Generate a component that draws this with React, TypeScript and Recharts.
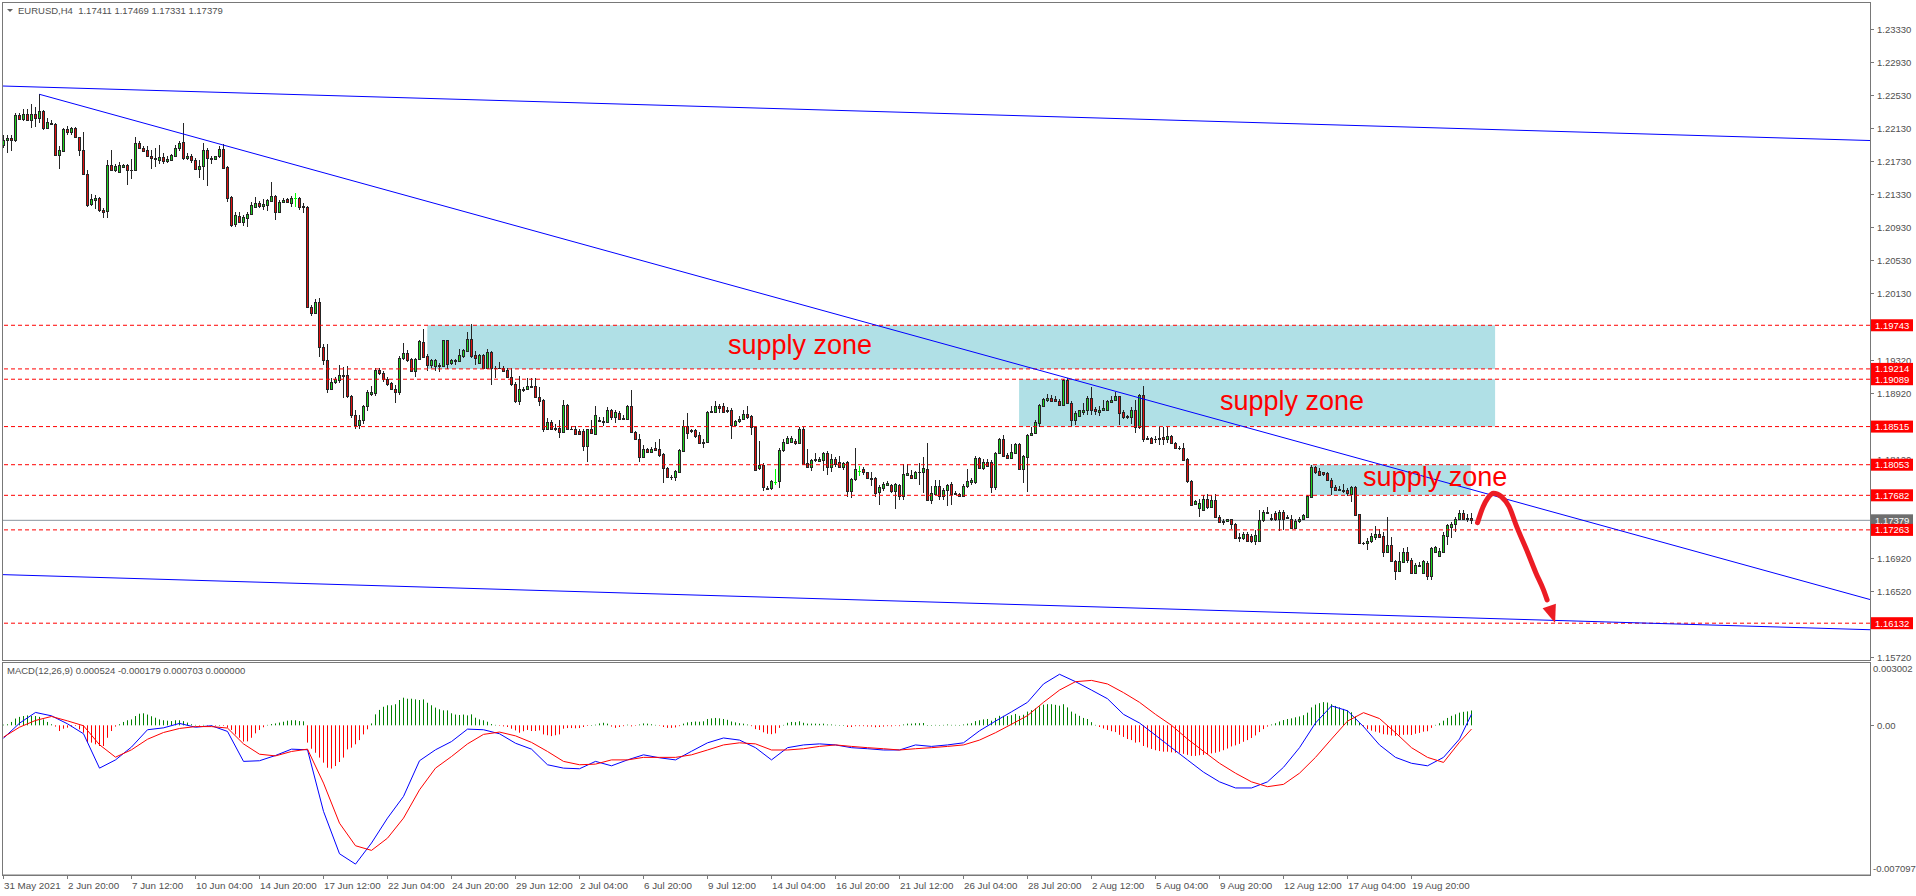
import React from "react";
import {
  Bar,
  ComposedChart,
  Line,
  ReferenceArea,
  ReferenceLine,
  Scatter,
  XAxis,
  YAxis,
} from "recharts";

// EURUSD H4, one row per bar: [open, high, low, close]
const candles: [number, number, number, number][] = [
  [1.2193, 1.2205, 1.2189, 1.2199], [1.2199, 1.2205, 1.2183, 1.2201], [1.2201, 1.2205, 1.2185, 1.2199], [1.2199, 1.2231, 1.2197, 1.2229],
  [1.2229, 1.2231, 1.2223, 1.2224], [1.2224, 1.2236, 1.2222, 1.223], [1.223, 1.2237, 1.2222, 1.2223], [1.2223, 1.2242, 1.2213, 1.223],
  [1.223, 1.2239, 1.2215, 1.2225], [1.2225, 1.2254, 1.2219, 1.2234], [1.2234, 1.2235, 1.2211, 1.2213], [1.2213, 1.2225, 1.2212, 1.2221],
  [1.222, 1.2223, 1.2217, 1.2218], [1.2218, 1.222, 1.2179, 1.2181], [1.2181, 1.2191, 1.2164, 1.2187], [1.2186, 1.2213, 1.2185, 1.2212],
  [1.2212, 1.2216, 1.2205, 1.2209], [1.2209, 1.2215, 1.2205, 1.2213], [1.2213, 1.2215, 1.2201, 1.2202], [1.2202, 1.2203, 1.2179, 1.2187],
  [1.2187, 1.2209, 1.2156, 1.2158], [1.2158, 1.2162, 1.2118, 1.212], [1.2121, 1.2134, 1.2119, 1.2127], [1.2126, 1.2132, 1.2115, 1.2128],
  [1.2128, 1.213, 1.2112, 1.2114], [1.2114, 1.2117, 1.2104, 1.2112], [1.2113, 1.2175, 1.2104, 1.2168], [1.2168, 1.2187, 1.2161, 1.2162],
  [1.2162, 1.217, 1.216, 1.2167], [1.216, 1.2172, 1.216, 1.2168], [1.2166, 1.217, 1.2165, 1.2168], [1.2168, 1.217, 1.2144, 1.2162],
  [1.2162, 1.2176, 1.2151, 1.2163], [1.2163, 1.2202, 1.2162, 1.2195], [1.2195, 1.2198, 1.2188, 1.2189], [1.2189, 1.2192, 1.2185, 1.2186],
  [1.2187, 1.2191, 1.2178, 1.2179], [1.2179, 1.2187, 1.2164, 1.2177], [1.2176, 1.2189, 1.2166, 1.2177], [1.2175, 1.2193, 1.217, 1.2178],
  [1.2178, 1.2183, 1.217, 1.2173], [1.2173, 1.2179, 1.2171, 1.2176], [1.2175, 1.2182, 1.2174, 1.2181], [1.218, 1.2193, 1.2178, 1.2189],
  [1.2189, 1.2198, 1.2186, 1.2195], [1.2196, 1.2219, 1.2175, 1.2177], [1.2177, 1.2183, 1.2174, 1.2179], [1.2179, 1.2182, 1.2171, 1.2174],
  [1.2174, 1.2177, 1.2162, 1.2164], [1.2164, 1.2175, 1.2153, 1.2167], [1.2167, 1.2195, 1.215, 1.2187], [1.2187, 1.2189, 1.2143, 1.2177],
  [1.2176, 1.2179, 1.217, 1.2177], [1.2176, 1.218, 1.2174, 1.2179], [1.2179, 1.2192, 1.2177, 1.2188], [1.2188, 1.2194, 1.2164, 1.2165],
  [1.2166, 1.2167, 1.2124, 1.2129], [1.213, 1.2131, 1.2094, 1.2096], [1.2097, 1.2112, 1.2094, 1.2108], [1.2107, 1.2112, 1.2099, 1.21],
  [1.21, 1.2108, 1.2095, 1.2105], [1.2104, 1.2112, 1.2094, 1.2109], [1.2109, 1.2124, 1.2108, 1.212], [1.2118, 1.213, 1.2116, 1.2122],
  [1.2122, 1.2125, 1.2116, 1.2119], [1.2119, 1.2127, 1.2114, 1.2121], [1.212, 1.2127, 1.2113, 1.2126], [1.2125, 1.2148, 1.2124, 1.2131],
  [1.2131, 1.2132, 1.2102, 1.2112], [1.2112, 1.2126, 1.2111, 1.2124], [1.2124, 1.2129, 1.2122, 1.2126], [1.2127, 1.2128, 1.2122, 1.2124],
  [1.2123, 1.2131, 1.2118, 1.2128], [1.2129, 1.2135, 1.2118, 1.2129], [1.2129, 1.213, 1.2114, 1.2118], [1.2119, 1.2122, 1.211, 1.2118],
  [1.2118, 1.2119, 1.1995, 1.1996], [1.1997, 1.1999, 1.1985, 1.1989], [1.1989, 1.2006, 1.1988, 1.2003], [1.2002, 1.2007, 1.1936, 1.1948],
  [1.1948, 1.1952, 1.1926, 1.1932], [1.1932, 1.1952, 1.1892, 1.1897], [1.1897, 1.191, 1.1896, 1.1906], [1.1905, 1.1912, 1.1903, 1.1909],
  [1.1908, 1.1926, 1.1904, 1.1914], [1.1914, 1.1924, 1.1886, 1.1913], [1.1914, 1.1925, 1.1886, 1.1888], [1.1888, 1.189, 1.1862, 1.1866],
  [1.1866, 1.1872, 1.1848, 1.1853], [1.1853, 1.1866, 1.1848, 1.186], [1.186, 1.1878, 1.1855, 1.1876], [1.1876, 1.1896, 1.187, 1.1893],
  [1.1891, 1.1901, 1.1888, 1.1894], [1.1892, 1.1922, 1.1889, 1.192], [1.192, 1.1922, 1.1914, 1.1916], [1.1916, 1.1919, 1.1906, 1.1909],
  [1.1909, 1.1912, 1.1901, 1.1903], [1.1904, 1.1906, 1.1896, 1.1897], [1.1897, 1.1902, 1.188, 1.1893], [1.1893, 1.1937, 1.189, 1.1935],
  [1.1935, 1.1953, 1.1932, 1.1941], [1.1941, 1.1944, 1.193, 1.1932], [1.1933, 1.1935, 1.1918, 1.1919], [1.1919, 1.1935, 1.1912, 1.1933],
  [1.1933, 1.1956, 1.1932, 1.1955], [1.1954, 1.197, 1.1935, 1.1936], [1.1937, 1.1939, 1.1919, 1.1926], [1.1926, 1.1934, 1.1923, 1.1932],
  [1.1925, 1.1934, 1.1919, 1.1932], [1.1926, 1.1928, 1.1918, 1.1925], [1.1925, 1.1957, 1.1924, 1.1956], [1.1956, 1.1957, 1.1921, 1.1927],
  [1.1928, 1.1934, 1.1926, 1.1932], [1.1932, 1.1933, 1.1926, 1.1931], [1.1931, 1.1945, 1.193, 1.1938], [1.1937, 1.1946, 1.1935, 1.1944],
  [1.1943, 1.1966, 1.1942, 1.1958], [1.1958, 1.1976, 1.1935, 1.1937], [1.1938, 1.1943, 1.1926, 1.1935], [1.1929, 1.1939, 1.1927, 1.1938],
  [1.1938, 1.1939, 1.1921, 1.1923], [1.1922, 1.1946, 1.1921, 1.1942], [1.1942, 1.1943, 1.1902, 1.1922], [1.1923, 1.1925, 1.191, 1.1922],
  [1.1922, 1.193, 1.1921, 1.1923], [1.1923, 1.1925, 1.1918, 1.1919], [1.192, 1.1923, 1.191, 1.1911], [1.1911, 1.1923, 1.1901, 1.1903],
  [1.1903, 1.1906, 1.188, 1.1883], [1.1883, 1.1913, 1.1878, 1.1897], [1.1897, 1.1899, 1.1894, 1.1896], [1.1897, 1.191, 1.1896, 1.1901],
  [1.1901, 1.191, 1.1899, 1.19], [1.1901, 1.191, 1.1886, 1.1887], [1.1887, 1.1899, 1.1876, 1.1883], [1.1884, 1.1885, 1.1845, 1.1849],
  [1.1849, 1.1862, 1.1847, 1.1857], [1.1857, 1.186, 1.1847, 1.1849], [1.185, 1.1855, 1.1846, 1.1849], [1.185, 1.186, 1.1838, 1.1845],
  [1.1845, 1.1884, 1.1844, 1.1878], [1.1878, 1.1879, 1.1848, 1.1849], [1.1849, 1.1852, 1.1847, 1.1848], [1.1849, 1.1852, 1.1841, 1.1843],
  [1.1846, 1.1848, 1.1841, 1.1842], [1.1846, 1.1848, 1.1822, 1.1828], [1.1828, 1.1849, 1.1808, 1.1848], [1.1848, 1.1859, 1.1842, 1.1844],
  [1.1843, 1.1876, 1.1842, 1.1866], [1.1859, 1.1863, 1.1857, 1.1858], [1.1858, 1.1863, 1.1852, 1.1857], [1.1857, 1.1875, 1.1856, 1.1871],
  [1.1871, 1.1873, 1.186, 1.1863], [1.1863, 1.1871, 1.1856, 1.1869], [1.1868, 1.187, 1.186, 1.1861], [1.1862, 1.1865, 1.186, 1.1861],
  [1.1861, 1.1878, 1.186, 1.1876], [1.1876, 1.1896, 1.1844, 1.1845], [1.1845, 1.1846, 1.1835, 1.1837], [1.1837, 1.1843, 1.1808, 1.1815],
  [1.1815, 1.1829, 1.1814, 1.1824], [1.1824, 1.1825, 1.182, 1.1821], [1.1821, 1.1827, 1.1819, 1.1824], [1.1825, 1.1833, 1.1822, 1.1823],
  [1.1824, 1.1836, 1.1815, 1.1817], [1.1818, 1.1819, 1.1783, 1.1801], [1.1801, 1.1803, 1.1789, 1.1791], [1.1791, 1.1793, 1.1787, 1.179],
  [1.1791, 1.1799, 1.1785, 1.1798], [1.1797, 1.1824, 1.1796, 1.1823], [1.1822, 1.186, 1.1821, 1.1852], [1.1852, 1.1868, 1.1837, 1.1844],
  [1.1846, 1.1848, 1.1844, 1.1847], [1.1847, 1.1848, 1.1838, 1.184], [1.1841, 1.1845, 1.1831, 1.1832], [1.1833, 1.1837, 1.1826, 1.1832],
  [1.1833, 1.187, 1.1832, 1.1869], [1.1869, 1.1876, 1.1868, 1.187], [1.1869, 1.1883, 1.1868, 1.1877], [1.1877, 1.1879, 1.1868, 1.1874],
  [1.1876, 1.188, 1.1868, 1.1869], [1.1871, 1.1875, 1.1868, 1.187], [1.1871, 1.1874, 1.1836, 1.1854], [1.1854, 1.186, 1.1852, 1.1858],
  [1.1858, 1.1864, 1.1856, 1.1861], [1.1861, 1.1871, 1.1859, 1.1867], [1.1867, 1.1876, 1.1861, 1.1863], [1.1864, 1.1865, 1.1841, 1.1851],
  [1.1851, 1.1852, 1.1798, 1.1799], [1.1801, 1.1834, 1.1799, 1.1805], [1.1805, 1.1807, 1.1773, 1.1778], [1.1777, 1.1779, 1.1775, 1.1776],
  [1.1777, 1.1787, 1.1775, 1.1785], [1.1784, 1.18, 1.1781, 1.1784], [1.1785, 1.1825, 1.1777, 1.1823], [1.1823, 1.1836, 1.1821, 1.1833],
  [1.1832, 1.184, 1.183, 1.1838], [1.1833, 1.184, 1.1832, 1.1838], [1.1834, 1.1836, 1.1829, 1.1831], [1.1831, 1.1851, 1.183, 1.1849],
  [1.1849, 1.1851, 1.1805, 1.1806], [1.1807, 1.1824, 1.1801, 1.1803], [1.1803, 1.1812, 1.1798, 1.1811], [1.1812, 1.1819, 1.1808, 1.1811],
  [1.181, 1.1815, 1.1809, 1.1812], [1.1811, 1.1821, 1.1798, 1.182], [1.182, 1.1822, 1.1793, 1.1803], [1.1803, 1.1818, 1.1797, 1.1812],
  [1.1812, 1.1815, 1.1803, 1.1806], [1.1809, 1.1816, 1.1802, 1.1803], [1.1802, 1.1808, 1.1799, 1.1807], [1.1808, 1.181, 1.1766, 1.1774],
  [1.1773, 1.1789, 1.1765, 1.1788], [1.1788, 1.1825, 1.1786, 1.18], [1.1798, 1.1804, 1.1792, 1.1798], [1.18, 1.1803, 1.1793, 1.1796],
  [1.1796, 1.1797, 1.1788, 1.1789], [1.1789, 1.1796, 1.178, 1.1788], [1.1789, 1.1791, 1.1766, 1.1771], [1.1772, 1.1781, 1.1756, 1.1778],
  [1.1777, 1.1784, 1.1774, 1.1782], [1.1781, 1.1785, 1.1779, 1.1783], [1.1781, 1.1782, 1.1771, 1.1773], [1.1773, 1.1783, 1.1752, 1.1782],
  [1.1781, 1.1782, 1.1762, 1.1767], [1.1767, 1.1806, 1.1763, 1.1794], [1.1793, 1.1806, 1.1792, 1.1795], [1.1793, 1.1799, 1.1788, 1.1789],
  [1.1789, 1.1798, 1.1788, 1.1797], [1.1797, 1.1807, 1.1781, 1.1796], [1.1797, 1.1815, 1.1771, 1.1801], [1.18, 1.1831, 1.1762, 1.1763],
  [1.1763, 1.1779, 1.1758, 1.1771], [1.177, 1.1787, 1.1769, 1.178], [1.178, 1.1787, 1.1763, 1.1767], [1.1767, 1.1777, 1.1763, 1.1775],
  [1.1775, 1.1782, 1.1755, 1.1781], [1.1782, 1.1784, 1.1756, 1.177], [1.177, 1.1773, 1.1769, 1.1771], [1.177, 1.1771, 1.1766, 1.1767],
  [1.1767, 1.1782, 1.1766, 1.1779], [1.1779, 1.18, 1.1777, 1.1785], [1.1784, 1.1789, 1.1781, 1.1787], [1.1784, 1.1816, 1.1782, 1.1813],
  [1.1813, 1.1815, 1.18, 1.1801], [1.1801, 1.1812, 1.1799, 1.1809], [1.1809, 1.1812, 1.1803, 1.1804], [1.1809, 1.1811, 1.1771, 1.1778],
  [1.1778, 1.1821, 1.1775, 1.182], [1.182, 1.1838, 1.1818, 1.1837], [1.1837, 1.1841, 1.1815, 1.1816], [1.1817, 1.182, 1.1812, 1.1814],
  [1.1814, 1.183, 1.1812, 1.1821], [1.182, 1.1832, 1.1818, 1.183], [1.183, 1.1831, 1.1799, 1.18], [1.18, 1.1817, 1.1783, 1.1816],
  [1.1815, 1.1842, 1.1772, 1.1841], [1.1841, 1.1851, 1.184, 1.1844], [1.1844, 1.1859, 1.1843, 1.1857], [1.1856, 1.1879, 1.1851, 1.1878],
  [1.1877, 1.1886, 1.1875, 1.1885], [1.1884, 1.1891, 1.1881, 1.1886], [1.1886, 1.189, 1.1881, 1.1883], [1.1885, 1.1888, 1.1881, 1.1882],
  [1.1883, 1.1885, 1.1876, 1.1878], [1.1878, 1.1909, 1.1876, 1.1908], [1.1908, 1.191, 1.1879, 1.188], [1.188, 1.1882, 1.1852, 1.1859],
  [1.1859, 1.187, 1.1853, 1.1868], [1.1864, 1.1872, 1.1863, 1.1871], [1.1869, 1.188, 1.1866, 1.1872], [1.1872, 1.1889, 1.1866, 1.1886],
  [1.1886, 1.1899, 1.1866, 1.1872], [1.1873, 1.1875, 1.1866, 1.187], [1.1869, 1.1876, 1.1864, 1.1872], [1.1872, 1.1884, 1.187, 1.1874],
  [1.1872, 1.1884, 1.1871, 1.1882], [1.1881, 1.1888, 1.188, 1.1884], [1.1884, 1.1894, 1.1883, 1.1888], [1.1888, 1.1889, 1.1853, 1.1868],
  [1.1869, 1.1871, 1.1861, 1.1863], [1.1863, 1.1866, 1.1861, 1.1864], [1.1863, 1.1875, 1.1855, 1.1872], [1.1872, 1.1884, 1.1844, 1.1851],
  [1.1851, 1.1891, 1.1849, 1.189], [1.189, 1.1901, 1.1833, 1.1837], [1.1838, 1.184, 1.1835, 1.1837], [1.1838, 1.1839, 1.1831, 1.1832],
  [1.1837, 1.184, 1.1832, 1.1836], [1.1838, 1.1851, 1.1829, 1.1837], [1.1839, 1.1851, 1.1829, 1.1836], [1.1836, 1.1851, 1.1831, 1.184],
  [1.184, 1.1841, 1.183, 1.1831], [1.1831, 1.1833, 1.1825, 1.1826], [1.1826, 1.1828, 1.1823, 1.1825], [1.1826, 1.1831, 1.181, 1.1811],
  [1.1812, 1.1813, 1.1783, 1.1785], [1.1785, 1.1787, 1.1755, 1.1756], [1.1758, 1.1763, 1.1756, 1.1761], [1.1753, 1.1764, 1.1742, 1.1759],
  [1.1751, 1.1768, 1.175, 1.1764], [1.1764, 1.177, 1.1752, 1.1754], [1.1754, 1.1768, 1.1754, 1.1762], [1.1762, 1.177, 1.1741, 1.1742],
  [1.1742, 1.1744, 1.1735, 1.1736], [1.1737, 1.174, 1.1732, 1.1736], [1.1737, 1.174, 1.1736, 1.1739], [1.1739, 1.174, 1.1727, 1.1733],
  [1.1733, 1.1735, 1.1716, 1.1717], [1.1718, 1.1722, 1.1712, 1.1717], [1.1716, 1.1724, 1.1714, 1.1721], [1.1721, 1.1724, 1.1712, 1.1713],
  [1.1719, 1.1721, 1.171, 1.1713], [1.1713, 1.1726, 1.1708, 1.172], [1.1713, 1.175, 1.1712, 1.1738], [1.1738, 1.175, 1.1736, 1.1748],
  [1.1747, 1.1754, 1.1745, 1.1748], [1.174, 1.1746, 1.1737, 1.1741], [1.1747, 1.1749, 1.1737, 1.1739], [1.1739, 1.175, 1.1725, 1.1748],
  [1.1748, 1.175, 1.1726, 1.1739], [1.1742, 1.1744, 1.174, 1.1741], [1.1739, 1.1744, 1.1728, 1.1729], [1.1729, 1.1739, 1.1728, 1.1737],
  [1.1737, 1.1742, 1.1735, 1.174], [1.174, 1.1746, 1.1739, 1.1744], [1.1742, 1.1769, 1.1741, 1.1767], [1.1766, 1.1805, 1.1766, 1.1802],
  [1.1802, 1.1804, 1.1794, 1.1796], [1.1798, 1.1801, 1.1792, 1.1793], [1.1796, 1.1797, 1.1792, 1.1794], [1.1795, 1.1796, 1.1786, 1.1787],
  [1.1787, 1.1789, 1.1769, 1.1778], [1.1778, 1.1781, 1.1773, 1.1775], [1.1775, 1.1779, 1.1773, 1.1776], [1.1775, 1.1782, 1.1771, 1.1774],
  [1.1775, 1.1777, 1.1767, 1.1771], [1.177, 1.1779, 1.176, 1.1778], [1.1778, 1.1779, 1.1743, 1.1744], [1.1745, 1.1746, 1.1709, 1.171],
  [1.171, 1.1712, 1.1708, 1.1711], [1.171, 1.1717, 1.1702, 1.1713], [1.1713, 1.1722, 1.171, 1.1719], [1.1718, 1.1731, 1.1714, 1.1721],
  [1.1721, 1.1727, 1.1716, 1.1718], [1.1719, 1.1724, 1.1694, 1.17], [1.17, 1.1742, 1.1699, 1.1708], [1.1708, 1.1718, 1.1687, 1.1688],
  [1.1689, 1.169, 1.1666, 1.1677], [1.1677, 1.1699, 1.1676, 1.1688], [1.1687, 1.1704, 1.1686, 1.17], [1.17, 1.1706, 1.1686, 1.169],
  [1.169, 1.1692, 1.1673, 1.1674], [1.1674, 1.1686, 1.1673, 1.1684], [1.1683, 1.1687, 1.1681, 1.1684], [1.1674, 1.169, 1.1673, 1.1688],
  [1.1686, 1.1688, 1.1666, 1.167], [1.167, 1.1706, 1.1666, 1.1704], [1.17, 1.1707, 1.1699, 1.1705], [1.1695, 1.1704, 1.1694, 1.1701],
  [1.17, 1.1724, 1.1699, 1.172], [1.1719, 1.1734, 1.1708, 1.1732], [1.173, 1.1736, 1.1716, 1.1734], [1.1733, 1.1742, 1.1724, 1.174],
  [1.1739, 1.1751, 1.1738, 1.1747], [1.1747, 1.175, 1.1739, 1.174], [1.1741, 1.1746, 1.1736, 1.1739], [1.17411, 1.17469, 1.17331, 1.17379],
];

// MACD histogram, one value per bar
const macdHist = [
  0.00003, 0.00005, 0.00016, 0.00032, 0.0004, 0.00044, 0.00047, 0.00044, 0.00044, 0.0004, 0.00028, 0.00016, 0.00005, -0.00006, -0.00027, -0.00016,
  -0.00011, -0.00006, -0.00003, -0.00019, -0.00035, -0.00079, -0.00082, -0.0009, -0.00098, -0.00098, -0.00059, -0.00027, -0.00006, 0.00005, 0.00016, 0.00024,
  0.00028, 0.00044, 0.00055, 0.00057, 0.00051, 0.00043, 0.00036, 0.00028, 0.00024, 0.00022, 0.0002, 0.00024, 0.00024, 0.0002, 0.00013, 0.00005,
  0.00002, -0.00002, 0.00002, -0.00002, 0.00001, -0.00002, 0.00001, -0.00003, -0.00011, -0.00022, -0.00043, -0.00059, -0.00077, -0.00076, -0.00059, -0.00038,
  -0.00022, -0.00009, 0.00002, 0.00006, 0.00009, 0.00013, 0.00017, 0.00022, 0.00024, 0.00024, 0.0002, 0.00019, -0.00082, -0.00111, -0.0013, -0.00153,
  -0.00177, -0.00201, -0.00205, -0.00193, -0.00174, -0.00153, -0.00114, -0.00106, -0.0009, -0.0007, -0.00043, -0.00019, 0.00009, 0.00052, 0.00073, 0.00088,
  0.00095, 0.00095, 0.001, 0.0012, 0.00131, 0.00126, 0.00126, 0.00123, 0.0012, 0.00123, 0.00107, 0.00095, 0.00084, 0.00076, 0.00071, 0.00071,
  0.00057, 0.00051, 0.00049, 0.00051, 0.00047, 0.00052, 0.00036, 0.00028, 0.00024, 0.00017, 0.00006, 0.00002, -0.00002, -0.00005, -0.00008, -0.00016,
  -0.00024, -0.00035, -0.00028, -0.00022, -0.00027, -0.00027, -0.00024, -0.00043, -0.00047, -0.00051, -0.00047, -0.00043, -0.00016, -0.00013, -0.00013, -0.00014,
  -0.00013, -0.00008, -0.00003, 0, 0.00003, 0.00009, 0.00012, 0.00008, -0.00006, -0.00012, -0.00008, -0.00004, 0.00003, -0.00005, -0.00002, 0.00004,
  0.00009, 0.00008, 0.00005, 0.00002, -0.00002, -0.00008, -0.00012, -0.00012, -0.0001, -0.00004, 0.00008, 0.00014, 0.00016, 0.00018, 0.00017, 0.00019,
  0.0003, 0.00033, 0.00035, 0.00033, 0.0003, 0.00026, 0.00018, 0.00014, 0.0001, 0.00008, 0.00004, -0.00004, -0.00018, -0.00022, -0.00033, -0.0004,
  -0.00042, -0.00038, -0.00012, 0.00002, 0.00012, 0.00016, 0.00015, 0.00019, 0.00012, 0.00008, 0.00008, 0.00008, 0.00007, 0.00008, 0.00004, 0.00004,
  0.00002, 0, 0.00001, -0.00008, -0.00008, -0.00004, -0.00004, -0.00004, -0.00006, -0.00006, -0.00009, -0.00008, -0.00006, -0.00004, -0.00005, -0.00002,
  -0.00004, 0.00004, 0.00008, 0.00008, 0.0001, 0.0001, 0.00011, 0.00001, 0, 0.00002, 0.00001, 0.00002, 0.00004, 0.00002, 0.00002, 0.00001,
  0.00004, 0.00008, 0.0001, 0.0002, 0.00024, 0.00028, 0.0003, 0.00022, 0.00035, 0.00045, 0.00045, 0.00044, 0.00048, 0.00054, 0.00045, 0.0005,
  0.00065, 0.00072, 0.0008, 0.0009, 0.00098, 0.001, 0.001, 0.00097, 0.00093, 0.001, 0.00085, 0.00065, 0.00055, 0.00045, 0.00035, 0.0003,
  0.00015, 0.00002, -0.00008, -0.00015, -0.00022, -0.00028, -0.00032, -0.00045, -0.00055, -0.00065, -0.0007, -0.00082, -0.0008, -0.00098, -0.00105, -0.00112,
  -0.00118, -0.00122, -0.00125, -0.00125, -0.00128, -0.0013, -0.0013, -0.00135, -0.0014, -0.00145, -0.00145, -0.00142, -0.0014, -0.00138, -0.00133, -0.0013,
  -0.00125, -0.00118, -0.0011, -0.001, -0.00095, -0.00088, -0.00078, -0.0007, -0.0006, -0.00048, -0.00032, -0.00018, -0.00006, 0.00004, 0.0001, 0.00018,
  0.00025, 0.0003, 0.00033, 0.00038, 0.00042, 0.00048, 0.0006, 0.00085, 0.00098, 0.00105, 0.0011, 0.00108, 0.001, 0.00092, 0.00085, 0.00078,
  0.0007, 0.00062, 0.00042, 0.00012, -0.00008, -0.00018, -0.00025, -0.0003, -0.00035, -0.00042, -0.00044, -0.00048, -0.0005, -0.00048, -0.00045, -0.00044,
  -0.00046, -0.0004, -0.00036, -0.0003, -0.00028, -0.00012, 0.00002, 0.0001, 0.00022, 0.00035, 0.00045, 0.00052, 0.0006, 0.00064, 0.00066, 0.000703,
];

// MACD(12,26,9) main and signal lines, read every fourth bar
const macdBars = [
  0, 4, 8, 12, 16, 20, 24, 28, 32, 36, 40, 44, 48, 52, 56, 60, 64, 68, 72, 76, 80, 84, 88, 92, 96, 100, 104, 108, 112, 116, 120, 124,
  128, 132, 136, 140, 144, 148, 152, 156, 160, 164, 168, 172, 176, 180, 184, 188, 192, 196, 200, 204, 208, 212, 216, 220, 224, 228,
  232, 236, 240, 244, 248, 252, 256, 260, 264, 268, 272, 276, 280, 284, 288, 292, 296, 300, 304, 308, 312, 316, 320, 324, 328, 332,
  336, 340, 344, 348, 352, 356, 360, 364, 367,
];
const macdMain = [
  -0.00061, 0.0001, 0.00061, 0.00045, 0.00007, -0.0004, -0.00203, -0.00164, -0.00103, -0.00021, -0.00012, 0.00009, -0.00009, -0.00002,
  -0.00029, -0.00171, -0.00168, -0.00143, -0.00113, -0.00116, -0.00408, -0.00609, -0.00658, -0.00558, -0.0044, -0.00337, -0.00168,
  -0.00116, -0.00077, -0.00018, -0.00021, -0.0004, -0.00085, -0.00113, -0.00187, -0.00203, -0.00206, -0.00171, -0.00192, -0.00164,
  -0.0014, -0.00154, -0.00164, -0.00123, -0.00083, -0.0006, -0.0007, -0.00106, -0.00164, -0.00106, -0.00093, -0.00088, -0.00093,
  -0.00106, -0.00111, -0.00117, -0.00117, -0.00093, -0.001, -0.00093, -0.00083, -0.00026, 0.0002, 0.00064, 0.00109, 0.00196, 0.00242,
  0.00207, 0.00167, 0.00126, 0.00052, 0.00011, -0.00047, -0.00106, -0.00164, -0.00222, -0.00268, -0.00297, -0.00297, -0.00268,
  -0.00199, -0.00106, 0.00011, 0.00092, 0.00069, -0.00006, -0.00093, -0.00152, -0.0018, -0.00192, -0.00152, -0.00065, 0.000524,
];
const macdSignal = [
  -0.00056, -0.00009, 0.00023, 0.00042, 0.00021, -0.00002, -0.00092, -0.00151, -0.00116, -0.00066, -0.00034, -0.00015, -0.00006,
  -0.00006, -0.00013, -0.00088, -0.00137, -0.00145, -0.00124, -0.00113, -0.00274, -0.00464, -0.00571, -0.00593, -0.00535, -0.0044,
  -0.00306, -0.00203, -0.00148, -0.00088, -0.00043, -0.00032, -0.0005, -0.00081, -0.00124, -0.00171, -0.00187, -0.00184, -0.00164,
  -0.00164, -0.00152, -0.00152, -0.00152, -0.0014, -0.00117, -0.00093, -0.00083, -0.00088, -0.00117, -0.00117, -0.00111, -0.001,
  -0.00093, -0.001, -0.00106, -0.00111, -0.00117, -0.00111, -0.00106, -0.001, -0.00093, -0.0007, -0.00035, 0.00005, 0.00046, 0.00109,
  0.00167, 0.00207, 0.00213, 0.00196, 0.00155, 0.00109, 0.00052, 0, -0.00065, -0.00123, -0.0018, -0.00227, -0.00268, -0.00291,
  -0.0028, -0.00227, -0.00152, -0.00065, 0.0002, 0.0006, 0.00032, -0.00035, -0.00106, -0.00152, -0.00176, -0.0008, -0.000179,
];

const timeLabels = [
  "31 May 2021", "2 Jun 20:00", "7 Jun 12:00", "10 Jun 04:00", "14 Jun 20:00", "17 Jun 12:00", "22 Jun 04:00", "24 Jun 20:00",
  "29 Jun 12:00", "2 Jul 04:00", "6 Jul 20:00", "9 Jul 12:00", "14 Jul 04:00", "16 Jul 20:00", "21 Jul 12:00", "26 Jul 04:00",
  "28 Jul 20:00", "2 Aug 12:00", "5 Aug 04:00", "9 Aug 20:00", "12 Aug 12:00", "17 Aug 04:00", "19 Aug 20:00",
];
const timeTickBars = [0, 16, 32, 48, 64, 80, 96, 112, 128, 144, 160, 176, 192, 208, 224, 240, 256, 272, 288, 304, 320, 336, 352];

const priceTicks = [1.2333, 1.2293, 1.2253, 1.2213, 1.2173, 1.2133, 1.2093, 1.2053, 1.2013, 1.1932, 1.1892, 1.1812, 1.1692, 1.1652, 1.1572];
const levelPrices = [1.19743, 1.19214, 1.19089, 1.18515, 1.18053, 1.17682, 1.17263, 1.16132];
const bidPrice = 1.17379;

// supply zones: [left bar, right bar, top price, bottom price]
const zones: [number, number, number, number][] = [
  [105.95, 372.9, 1.19743, 1.19214],
  [253.9, 372.9, 1.19089, 1.18515],
  [326.6, 366.8, 1.18053, 1.17682],
];
const zoneLabels = [
  { i: 181.1, p: 1.19395, t: "supply zone" },
  { i: 304.1, p: 1.18722, t: "supply zone" },
  { i: 339.9, p: 1.17795, t: "supply zone" },
];

// trend lines: [bar, price] -> [bar, price]
const trendLines: [number, number, number, number][] = [
  [-0.375, 1.22643, 466.625, 1.21982],
  [9, 1.22542, 466.625, 1.16419],
  [-0.375, 1.16721, 466.625, 1.16053],
];

// hand drawn forecast arrow
const arrowPath = [
  { i: 368.5, p: 1.1735 }, { i: 369.9, p: 1.17544 }, { i: 371.1, p: 1.17649 }, { i: 372.5, p: 1.17706 },
  { i: 374.5, p: 1.17665 }, { i: 376.4, p: 1.17544 }, { i: 378.3, p: 1.17302 }, { i: 381.1, p: 1.16983 },
  { i: 383.1, p: 1.16741 }, { i: 385.0, p: 1.16535 }, { i: 385.9, p: 1.16414 },
];
const arrowTip = [{ i: 387.9, p: 1.16135 }];

const X_DOMAIN: [number, number] = [-0.375, 466.625];
const PRICE_DOMAIN: [number, number] = [1.15686, 1.23661];
const MACD_DOMAIN: [number, number] = [-0.007097, 0.003002];

const W = 1916;
const PRICE_H = 662;
const MACD_TOP = 660;
const MACD_H = 236;
const FONT = "'Liberation Sans', Arial, sans-serif";
const TEXT = "#505050";
const FRAME = "#787878";
const WICK = "#262626";
const BULL = "#1ed21e";
const BEAR = "#e01010";
const RED = "#ff0000";
const ARROW = "#ec1c24";

const candleRows = candles.map(([open, high, low, close], i) => ({
  i,
  open,
  high,
  low,
  close,
  range: [low, high],
}));
const histRows = macdHist.map((h, i) => ({ i, h }));
const mainRows = macdBars.map((i, k) => ({ i, v: macdMain[k] }));
const signalRows = macdBars.map((i, k) => ({ i, v: macdSignal[k] }));

function Candle(props: any) {
  const { x, y, width, height, payload } = props;
  if (x == null || y == null) return null;
  const { open, high, low, close } = payload;
  const top = Math.min(y, y + height);
  const bottom = Math.max(y, y + height);
  const span = high - low;
  const toY = (p: number) => (span > 0 ? top + ((high - p) / span) * (bottom - top) : top);
  const cx = Math.floor(x + width / 2);
  const yHi = Math.round(top);
  const yLo = Math.round(bottom);
  const yO = Math.round(toY(open));
  const yC = Math.round(toY(close));
  if (open === close) {
    return (
      <g>
        <rect x={cx} y={yHi} width={1} height={Math.max(1, yLo - yHi)} fill="#00ff00" />
        <rect x={cx - 1} y={yO} width={3} height={1} fill="#00ff00" />
      </g>
    );
  }
  const bTop = Math.min(yO, yC);
  const bBot = Math.max(yO, yC);
  return (
    <g>
      <rect x={cx} y={yHi} width={1} height={Math.max(1, yLo - yHi)} fill={WICK} />
      <rect x={cx - 1} y={bTop} width={3} height={Math.max(1, bBot - bTop + 1)} fill={WICK} />
      {bBot - bTop > 1 && (
        <rect x={cx} y={bTop + 1} width={1} height={bBot - bTop - 1} fill={close > open ? BULL : BEAR} />
      )}
    </g>
  );
}

function HistBar(props: any) {
  const { x, y, width, height, payload } = props;
  if (x == null || y == null) return null;
  const top = Math.min(y, y + height);
  const cx = Math.floor(x + width / 2);
  return (
    <rect x={cx} y={top} width={1} height={Math.max(0.5, Math.abs(height))} fill={payload.h >= 0 ? "#008000" : RED} />
  );
}

function PriceTick(props: any) {
  const { y, payload } = props;
  const v = payload.value as number;
  const label = v.toFixed(5);
  const isLevel = levelPrices.includes(v);
  const isBid = v === bidPrice;
  if (isLevel || isBid) {
    return (
      <g>
        <rect x={1871} y={y - 6} width={42} height={12} fill={isBid ? "#6e6e6e" : RED} />
        <text x={1875} y={y + 3.5} fontSize={9.5} fill="#ffffff" style={{ fontFamily: FONT }}>
          {label}
        </text>
      </g>
    );
  }
  return (
    <g>
      <line x1={1870} x2={1874} y1={Math.round(y) + 0.5} y2={Math.round(y) + 0.5} stroke={FRAME} />
      <text x={1877} y={y + 3.5} fontSize={9.5} fill={TEXT} style={{ fontFamily: FONT }}>
        {label}
      </text>
    </g>
  );
}

function MacdTick(props: any) {
  const { y, payload } = props;
  const v = payload.value as number;
  if (v === 0) {
    return (
      <g>
        <line x1={1870} x2={1874} y1={Math.round(y) + 0.5} y2={Math.round(y) + 0.5} stroke={FRAME} />
        <text x={1877} y={y + 3.5} fontSize={9.5} fill={TEXT} style={{ fontFamily: FONT }}>
          0.00
        </text>
      </g>
    );
  }
  const dy = v > 0 ? 9.5 : -3.5;
  return (
    <text x={1873} y={y + dy} fontSize={9.5} fill={TEXT} style={{ fontFamily: FONT }}>
      {v.toFixed(6)}
    </text>
  );
}

function TimeTick(props: any) {
  const { x, payload } = props;
  const k = timeTickBars.indexOf(payload.value);
  const axisY = MACD_H - 21;
  return (
    <g>
      <line x1={Math.floor(x) + 0.5} x2={Math.floor(x) + 0.5} y1={axisY} y2={axisY + 4} stroke={FRAME} />
      <text x={Math.floor(x) + 1} y={axisY + 14} fontSize={9.8} fill={TEXT} style={{ fontFamily: FONT }}>
        {timeLabels[k]}
      </text>
    </g>
  );
}

function ZoneText(props: any) {
  const { cx, cy, payload } = props;
  return (
    <text x={cx} y={cy} fontSize={27} fill={RED} style={{ fontFamily: FONT }}>
      {payload.t}
    </text>
  );
}

function ArrowHead(props: any) {
  const { cx, cy } = props;
  const ang = (71 * Math.PI) / 180;
  const len = 18;
  const half = 7;
  const bx = cx - Math.cos(ang) * len;
  const by = cy - Math.sin(ang) * len;
  const px = -Math.sin(ang) * half;
  const py = Math.cos(ang) * half;
  return <polygon points={`${cx},${cy} ${bx + px},${by + py} ${bx - px},${by - py}`} fill={ARROW} />;
}

const layer: React.CSSProperties = { position: "absolute", left: 0, top: 0 };

export default function App() {
  const priceMargin = { top: 2, right: 46, bottom: 2, left: 2 };
  return (
    <div
      style={{
        position: "absolute",
        left: 0,
        top: 0,
        width: W,
        height: 896,
        background: "#ffffff",
        overflow: "hidden",
        fontFamily: FONT,
      }}
    >
      {/* background: supply zones and bid line */}
      <div style={layer}>
        <ComposedChart width={W} height={PRICE_H} data={candleRows} margin={priceMargin}>
          <XAxis dataKey="i" type="number" domain={X_DOMAIN} allowDataOverflow hide />
          <YAxis type="number" domain={PRICE_DOMAIN} allowDataOverflow hide />
          {zones.map(([x1, x2, y1, y2], k) => (
            <ReferenceArea key={k} x1={x1} x2={x2} y1={y1} y2={y2} fill="#b0e0e6" fillOpacity={1} stroke="none" ifOverflow="hidden" />
          ))}
          <ReferenceLine y={bidPrice} stroke="#8a949e" strokeWidth={1} ifOverflow="hidden" />
        </ComposedChart>
      </div>

      {/* candles */}
      <div style={layer}>
        <ComposedChart width={W} height={PRICE_H} data={candleRows} margin={priceMargin}>
          <XAxis dataKey="i" type="number" domain={X_DOMAIN} allowDataOverflow hide />
          <YAxis type="number" domain={PRICE_DOMAIN} allowDataOverflow hide />
          <Bar dataKey="range" barSize={3} shape={Candle} isAnimationActive={false} />
        </ComposedChart>
      </div>

      {/* levels, trend lines, annotations, price scale */}
      <div style={layer}>
        <ComposedChart width={W} height={PRICE_H} data={candleRows} margin={{ top: 2, right: 0, bottom: 2, left: 2 }}>
          <XAxis dataKey="i" type="number" domain={X_DOMAIN} allowDataOverflow hide />
          <YAxis
            orientation="right"
            type="number"
            domain={PRICE_DOMAIN}
            allowDataOverflow
            width={46}
            ticks={[...priceTicks, bidPrice, ...levelPrices]}
            interval={0}
            axisLine={false}
            tickLine={false}
            tick={(p: any) => <PriceTick {...p} />}
          />
          {levelPrices.map((p) => (
            <ReferenceLine key={p} y={p} stroke={RED} strokeDasharray="4 3" strokeWidth={1} ifOverflow="hidden" />
          ))}
          {trendLines.map(([x1, y1, x2, y2], k) => (
            <ReferenceLine
              key={`t${k}`}
              segment={[
                { x: x1, y: y1 },
                { x: x2, y: y2 },
              ]}
              stroke="#0000ff"
              strokeWidth={1}
              ifOverflow="hidden"
            />
          ))}
          <Scatter data={zoneLabels} dataKey="p" shape={ZoneText} isAnimationActive={false} />
          <Line
            data={arrowPath}
            dataKey="p"
            type="monotone"
            stroke={ARROW}
            strokeWidth={5}
            strokeLinecap="round"
            dot={false}
            isAnimationActive={false}
          />
          <Scatter data={arrowTip} dataKey="p" shape={ArrowHead} isAnimationActive={false} />
        </ComposedChart>
      </div>

      {/* MACD sub window */}
      <div style={{ ...layer, top: MACD_TOP }}>
        <ComposedChart width={W} height={MACD_H} data={histRows} margin={{ top: 2, right: 0, bottom: 0, left: 2 }}>
          <XAxis
            dataKey="i"
            type="number"
            domain={X_DOMAIN}
            allowDataOverflow
            height={21}
            ticks={timeTickBars}
            interval={0}
            axisLine={{ stroke: FRAME }}
            tickLine={false}
            tick={(p: any) => <TimeTick {...p} />}
          />
          <YAxis
            orientation="right"
            type="number"
            domain={MACD_DOMAIN}
            allowDataOverflow
            width={46}
            ticks={[MACD_DOMAIN[1], 0, MACD_DOMAIN[0]]}
            interval={0}
            axisLine={false}
            tickLine={false}
            tick={(p: any) => <MacdTick {...p} />}
          />
          <Bar dataKey="h" barSize={2} shape={HistBar} isAnimationActive={false} />
          <Line data={mainRows} dataKey="v" type="linear" stroke="#0000ff" strokeWidth={1} dot={false} isAnimationActive={false} />
          <Line data={signalRows} dataKey="v" type="linear" stroke={RED} strokeWidth={1} dot={false} isAnimationActive={false} />
        </ComposedChart>
      </div>

      {/* frames and captions */}
      <svg width={W} height={896} style={{ ...layer, pointerEvents: "none" }}>
        <rect x={2.5} y={2.5} width={1868} height={658} fill="none" stroke={FRAME} />
        <rect x={2.5} y={662.5} width={1868} height={213} fill="none" stroke={FRAME} />
        <polygon points="7,9 13,9 10,12" fill="#606060" />
        <text x={18} y={14} fontSize={9.5} fill={TEXT} style={{ fontFamily: FONT, whiteSpace: "pre" }}>
          EURUSD,H4  1.17411 1.17469 1.17331 1.17379
        </text>
        <text x={7} y={674} fontSize={9.5} fill={TEXT} style={{ fontFamily: FONT, whiteSpace: "pre" }}>
          MACD(12,26,9) 0.000524 -0.000179 0.000703 0.000000
        </text>
      </svg>
    </div>
  );
}
